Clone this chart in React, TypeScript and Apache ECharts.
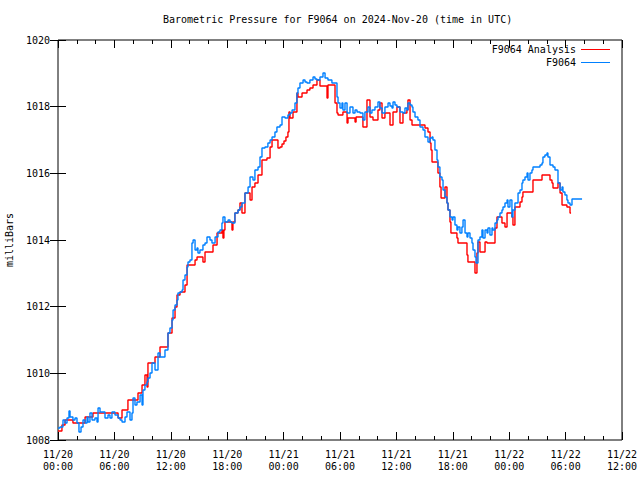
import React, { useEffect, useRef } from "react";
import * as echarts from "echarts";

const titleText = "Barometric Pressure for F9064 on 2024-Nov-20 (time in UTC)";
const yAxisName = "milliBars";
const seriesNames = ["F9064 Analysis", "F9064"];
const seriesColors = ["#ff0000", "#0080ff"];

// x values are hours since 2024-11-20 00:00 UTC
const tickLabels = [
  "11/20\n00:00", "11/20\n06:00", "11/20\n12:00", "11/20\n18:00",
  "11/21\n00:00", "11/21\n06:00", "11/21\n12:00", "11/21\n18:00",
  "11/22\n00:00", "11/22\n06:00", "11/22\n12:00",
];
const yMin = 1008;
const yMax = 1020;
const yStep = 2;
const xMin = 0;
const xMax = 60;
const xStep = 6;

// Analysis (stepped) [hours, mb]
const analysisData: [number, number][] = [
  [0, 1008.27], [0.42, 1008.45], [0.75, 1008.6], [1.59, 1008.51], [2.88, 1008.69], [3.72, 1008.81],
  [6.39, 1008.66], [6.81, 1008.9], [7.44, 1009.2], [8.51, 1009.41], [8.94, 1009.65], [9.25, 1009.95],
  [9.47, 1009.59], [9.57, 1010.31], [10.32, 1010.49], [10.85, 1010.79], [11.7, 1011.21], [12.13, 1011.66],
  [12.45, 1011.99], [12.66, 1012.35], [12.98, 1012.44], [13.51, 1012.65], [13.73, 1013.25], [14.58, 1013.4],
  [14.79, 1013.49], [15.42, 1013.34], [15.64, 1013.64], [16.49, 1013.85], [16.92, 1014.21], [17.44, 1014.3],
  [17.55, 1014.06], [17.65, 1014.3], [17.76, 1014.54], [18.51, 1014.3], [18.61, 1014.54], [18.82, 1014.81],
  [19.15, 1014.9], [19.36, 1015.11], [19.57, 1014.81], [19.89, 1015.41], [20.43, 1015.2], [20.64, 1015.59],
  [20.95, 1015.71], [21.28, 1015.95], [21.7, 1016.4], [22.23, 1016.46], [22.56, 1016.79], [22.77, 1017.0],
  [23.4, 1016.76], [23.62, 1016.79], [23.83, 1016.88], [24.04, 1016.97], [24.25, 1017.09], [24.46, 1017.24],
  [24.57, 1017.84], [24.68, 1017.66], [25.0, 1017.84], [25.42, 1018.41], [25.53, 1018.29], [25.96, 1018.41],
  [26.49, 1018.5], [26.8, 1018.56], [27.13, 1018.65], [27.55, 1018.8], [27.87, 1018.62], [28.62, 1018.26],
  [28.72, 1018.65], [29.47, 1018.11], [29.68, 1017.81], [29.79, 1017.75], [30.31, 1017.84], [30.75, 1017.51],
  [30.85, 1017.66], [31.6, 1017.54], [31.71, 1017.69], [32.44, 1017.39], [32.87, 1018.2], [33.19, 1017.69],
  [33.51, 1017.6], [34.04, 1017.9], [34.25, 1018.11], [34.47, 1017.66], [34.78, 1017.81], [35.32, 1017.45],
  [35.64, 1017.84], [36.06, 1017.99], [36.38, 1017.51], [36.7, 1017.81], [37.12, 1017.9], [37.23, 1018.2],
  [37.45, 1017.6], [37.66, 1017.45], [39.04, 1017.36], [39.36, 1017.24], [39.58, 1016.91], [39.68, 1016.7],
  [39.79, 1016.34], [40.42, 1016.01], [40.63, 1015.59], [40.75, 1015.26], [41.17, 1015.59], [41.38, 1015.11],
  [41.49, 1014.9], [41.7, 1014.54], [41.8, 1014.21], [42.44, 1014.06], [42.55, 1013.91], [43.51, 1013.55],
  [43.61, 1013.34], [44.36, 1013.01], [44.57, 1013.61], [44.68, 1013.94], [44.89, 1013.64], [45.43, 1013.94],
  [45.64, 1013.91], [46.49, 1014.36], [46.7, 1014.69], [47.23, 1014.51], [47.55, 1014.39], [47.77, 1014.81],
  [48.29, 1014.69], [48.4, 1014.45], [48.61, 1014.99], [49.15, 1015.14], [49.36, 1015.29], [49.46, 1015.44],
  [50.53, 1015.8], [51.49, 1015.95], [52.34, 1015.8], [52.55, 1015.71], [52.66, 1015.56], [53.19, 1015.71],
  [53.41, 1015.41], [53.62, 1015.05], [54.14, 1014.99], [54.47, 1014.81], [54.58, 1014.81],
];

// Station observations [hours, mb]
const stationData: [number, number][] = [
  [0, 1008.36], [0.21, 1008.39], [0.42, 1008.39], [0.53, 1008.6], [0.75, 1008.51], [0.96, 1008.66],
  [1.17, 1008.87], [1.28, 1008.69], [1.59, 1008.6], [1.81, 1008.66], [2.02, 1008.51], [2.23, 1008.24],
  [2.45, 1008.39], [2.66, 1008.6], [2.88, 1008.51], [3.09, 1008.69], [3.19, 1008.54], [3.4, 1008.81],
  [3.62, 1008.6], [3.93, 1008.66], [4.15, 1008.54], [4.26, 1008.96], [4.47, 1008.84], [4.68, 1008.84],
  [5.0, 1008.66], [5.32, 1008.75], [5.53, 1008.66], [5.74, 1008.84], [6.06, 1008.75], [6.39, 1008.66],
  [6.6, 1008.6], [6.81, 1008.54], [7.13, 1008.69], [7.34, 1008.84], [7.66, 1008.6], [7.87, 1008.81],
  [7.98, 1009.26], [8.19, 1009.05], [8.4, 1009.14], [8.73, 1009.35], [8.94, 1009.05], [9.04, 1009.5],
  [9.25, 1009.65], [9.47, 1009.74], [9.57, 1009.86], [9.79, 1010.01], [10.0, 1010.31], [10.32, 1010.1],
  [10.64, 1010.61], [10.85, 1010.49], [11.07, 1010.49], [11.38, 1010.7], [11.7, 1011.21], [11.91, 1011.36],
  [12.13, 1011.6], [12.24, 1011.9], [12.45, 1012.05], [12.66, 1012.2], [12.76, 1012.41], [12.98, 1012.44],
  [13.2, 1012.5], [13.3, 1012.8], [13.51, 1012.95], [13.73, 1013.19], [13.83, 1013.34], [14.04, 1013.4],
  [14.25, 1013.91], [14.37, 1014.0], [14.58, 1013.7], [14.79, 1013.76], [14.89, 1013.61], [15.1, 1013.7],
  [15.31, 1013.7], [15.42, 1013.85], [15.64, 1013.91], [15.85, 1014.09], [16.17, 1014.0], [16.38, 1013.91],
  [16.71, 1014.09], [17.02, 1014.24], [17.23, 1014.3], [17.44, 1014.51], [17.55, 1014.69], [17.76, 1014.54],
  [18.09, 1014.6], [18.3, 1014.54], [18.51, 1014.51], [18.82, 1014.81], [19.15, 1014.9], [19.36, 1014.99],
  [19.57, 1015.11], [19.89, 1015.41], [20.22, 1015.59], [20.43, 1015.89], [20.74, 1015.8], [20.95, 1016.1],
  [21.28, 1016.19], [21.49, 1016.49], [21.7, 1016.76], [22.02, 1016.79], [22.33, 1016.91], [22.56, 1017.0],
  [22.77, 1017.09], [23.08, 1017.24], [23.29, 1017.39], [23.62, 1017.45], [23.83, 1017.69], [24.15, 1017.66],
  [24.46, 1017.75], [24.68, 1017.81], [24.9, 1017.9], [25.21, 1018.11], [25.42, 1018.41], [25.53, 1018.56],
  [25.74, 1018.71], [26.07, 1018.8], [26.28, 1018.74], [26.49, 1018.71], [26.8, 1018.8], [27.13, 1018.89],
  [27.34, 1018.83], [27.55, 1018.8], [27.87, 1018.89], [28.19, 1019.01], [28.41, 1018.86], [28.72, 1018.8],
  [29.14, 1018.71], [29.47, 1018.71], [29.68, 1018.29], [29.79, 1018.11], [30.0, 1017.96], [30.21, 1018.11],
  [30.31, 1017.9], [30.53, 1018.11], [30.75, 1017.81], [31.06, 1017.99], [31.38, 1017.81], [31.6, 1017.9],
  [31.81, 1017.84], [32.13, 1017.81], [32.44, 1017.6], [32.65, 1017.84], [32.98, 1017.99], [33.19, 1017.81],
  [33.4, 1017.9], [33.72, 1017.99], [34.04, 1018.14], [34.25, 1017.96], [34.47, 1017.81], [34.78, 1017.99],
  [35.11, 1018.11], [35.32, 1018.02], [35.53, 1017.96], [35.64, 1018.14], [35.85, 1018.05], [36.06, 1017.99],
  [36.38, 1017.84], [36.7, 1017.81], [36.91, 1017.96], [37.12, 1017.9], [37.23, 1018.11], [37.45, 1018.05],
  [37.66, 1017.99], [37.76, 1017.84], [37.98, 1017.69], [38.29, 1017.6], [38.51, 1017.39], [38.83, 1017.3],
  [39.04, 1017.09], [39.36, 1016.94], [39.58, 1017.06], [39.79, 1017.09], [39.89, 1017.0], [40.1, 1016.7],
  [40.32, 1016.4], [40.42, 1016.19], [40.63, 1015.89], [40.85, 1015.8], [40.96, 1015.5], [41.17, 1015.29],
  [41.38, 1015.11], [41.49, 1014.9], [41.7, 1014.69], [41.92, 1014.6], [42.02, 1014.69], [42.23, 1014.45],
  [42.44, 1014.3], [42.55, 1014.39], [42.76, 1014.21], [42.97, 1014.39], [43.09, 1014.6], [43.3, 1014.21],
  [43.51, 1014.09], [43.61, 1014.21], [43.83, 1014.06], [44.04, 1013.91], [44.15, 1013.7], [44.36, 1013.49],
  [44.47, 1013.31], [44.68, 1014.0], [44.89, 1014.09], [45.1, 1014.3], [45.21, 1014.06], [45.43, 1014.3],
  [45.64, 1014.21], [45.74, 1014.36], [45.95, 1014.15], [46.17, 1014.36], [46.27, 1014.3], [46.49, 1014.51],
  [46.7, 1014.6], [46.81, 1014.69], [47.02, 1014.81], [47.23, 1014.9], [47.34, 1014.99], [47.55, 1015.11],
  [47.77, 1015.2], [47.87, 1014.99], [48.08, 1015.2], [48.29, 1014.69], [48.4, 1014.9], [48.61, 1015.11],
  [48.94, 1015.41], [49.15, 1015.5], [49.36, 1015.71], [49.46, 1015.8], [49.68, 1015.89], [49.9, 1016.01],
  [50.0, 1015.8], [50.21, 1016.01], [50.42, 1016.1], [50.53, 1016.19], [50.95, 1016.19], [51.28, 1016.25],
  [51.49, 1016.31], [51.59, 1016.49], [51.8, 1016.55], [52.02, 1016.61], [52.12, 1016.49], [52.34, 1016.25],
  [52.66, 1016.19], [52.87, 1016.1], [53.19, 1015.71], [53.41, 1015.5], [53.62, 1015.59], [53.72, 1015.44],
  [53.93, 1015.35], [54.14, 1015.2], [54.25, 1015.11], [54.47, 1015.05], [54.68, 1015.23], [55.75, 1015.23],
];

const FONT = "'DejaVu Sans Mono', 'Liberation Mono', monospace";

export default function App() {
  const ref = useRef<HTMLDivElement>(null);

  useEffect(() => {
    if (!ref.current) return;
    const chart = echarts.init(ref.current, null, { renderer: "svg" });

    const tickStyle = { color: "#000", width: 1 };
    const xAxisBase = {
      type: "value" as const,
      min: xMin,
      max: xMax,
      interval: xStep,
      axisLine: { show: false },
      axisTick: { show: true, inside: true, length: 8, lineStyle: tickStyle },
      minorTick: { show: true, splitNumber: 3, length: 4, lineStyle: tickStyle },
      splitLine: { show: false },
      minorSplitLine: { show: false },
    };
    const yAxisBase = {
      type: "value" as const,
      min: yMin,
      max: yMax,
      interval: yStep,
      axisLine: { show: false },
      axisTick: { show: true, inside: true, length: 8, lineStyle: tickStyle },
      splitLine: { show: false },
    };

    chart.setOption({
      animation: false,
      backgroundColor: "#ffffff",
      title: {
        text: titleText,
        left: 163,
        top: 14,
        padding: 0,
        textStyle: { fontFamily: FONT, fontSize: 10, fontWeight: "normal", color: "#000" },
      },
      legend: {
        orient: "vertical",
        right: 30,
        top: 43,
        padding: 0,
        align: "right",
        icon: "rect",
        itemWidth: 29,
        itemHeight: 1,
        itemGap: 0,
        data: seriesNames,
        textStyle: { fontFamily: FONT, fontSize: 10, color: "#000", lineHeight: 13 },
      },
      grid: {
        left: 58,
        right: 18,
        top: 40,
        bottom: 40,
        outerBoundsMode: "none",
        containLabel: false,
        show: true,
        borderColor: "#000",
        borderWidth: 1,
        backgroundColor: "transparent",
      },
      xAxis: [
        {
          ...xAxisBase,
          position: "bottom",
          axisLabel: {
            show: true,
            margin: 8,
            fontFamily: FONT,
            fontSize: 10,
            color: "#000",
            lineHeight: 12,
            formatter: (v: number) => tickLabels[Math.round((v - xMin) / xStep)] ?? "",
          },
        },
        { ...xAxisBase, position: "top", axisLabel: { show: false } },
      ],
      yAxis: [
        {
          ...yAxisBase,
          position: "left",
          name: yAxisName,
          nameLocation: "middle",
          nameGap: 44,
          nameRotate: 90,
          nameTextStyle: { fontFamily: FONT, fontSize: 10, color: "#000" },
          axisLabel: {
            show: true,
            margin: 8,
            fontFamily: FONT,
            fontSize: 10,
            color: "#000",
            formatter: (v: number) => String(v),
          },
        },
        { ...yAxisBase, position: "right", axisLabel: { show: false } },
      ],
      series: [
        {
          name: seriesNames[0],
          type: "line",
          step: "end",
          xAxisIndex: 0,
          yAxisIndex: 0,
          showSymbol: false,
          symbol: "none",
          color: seriesColors[0],
          lineStyle: { color: seriesColors[0], width: 1.4 },
          data: analysisData,
        },
        {
          name: seriesNames[1],
          type: "line",
          step: "end",
          xAxisIndex: 0,
          yAxisIndex: 0,
          showSymbol: false,
          symbol: "none",
          color: seriesColors[1],
          lineStyle: { color: seriesColors[1], width: 1.4 },
          data: stationData,
        },
      ],
    });

    return () => chart.dispose();
  }, []);

  return (
    <div
      ref={ref}
      style={{ position: "fixed", left: 0, top: 0, width: 640, height: 480, background: "#fff" }}
    />
  );
}
